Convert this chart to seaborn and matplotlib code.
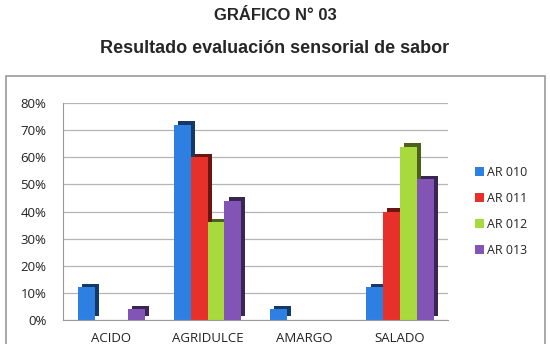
import pandas as pd
import seaborn as sns
import matplotlib.pyplot as plt
import matplotlib.patheffects as pe
from matplotlib.patches import Rectangle
from matplotlib.ticker import PercentFormatter
from matplotlib.colors import to_rgb

# Data
categories = ['ACIDO', 'AGRIDULCE', 'AMARGO', 'SALADO']
series = ['AR 010', 'AR 011', 'AR 012', 'AR 013']
ar010 = [12, 72, 4, 12]
ar011 = [0, 60, 0, 40]
ar012 = [0, 36, 0, 64]
ar013 = [4, 44, 0, 52]

colors = ['#2E7FE2', '#E8302A', '#A8DA3E', '#8154B6']

rows = []
for name, vals in zip(series, [ar010, ar011, ar012, ar013]):
    for cat, v in zip(categories, vals):
        rows.append({'Sabor': cat, 'Muestra': name, 'Valor': v})
df = pd.DataFrame(rows)

sns.set_style('white')
plt.rcParams['font.family'] = ['Open Sans', 'DejaVu Sans']

fig = plt.figure(figsize=(5.5, 3.44), dpi=100)
ax = fig.add_axes([0.115, 0.07, 0.70, 0.63])

# outer chart frame
fig.patches.append(Rectangle((0.010, -0.01), 0.98, 0.79, transform=fig.transFigure,
                             fill=False, edgecolor='#9a9a9a', linewidth=1.2))

sns.barplot(data=df, x='Sabor', y='Valor', hue='Muestra', palette=colors,
            width=0.7, gap=0, ax=ax, saturation=1, linewidth=0)

ax.set_ylim(0, 80)
ax.set_yticks(range(0, 81, 10))
ax.yaxis.set_major_formatter(PercentFormatter(decimals=0))
ax.grid(axis='y', color='#b5b5b5', linewidth=0.9)
ax.set_axisbelow(True)
for s in ['top', 'right']:
    ax.spines[s].set_visible(False)
ax.spines['left'].set_color('#9a9a9a')
ax.spines['bottom'].set_color('#9a9a9a')
ax.set_xlabel('')
ax.set_ylabel('')
ax.tick_params(axis='both', labelsize=9.5, colors='#222222', length=0)
ax.tick_params(axis='x', pad=9)
ax.tick_params(axis='y', pad=12)

leg = ax.legend(loc='center left', bbox_to_anchor=(1.04, 0.5), frameon=False, fontsize=9,
                handlelength=0.7, handleheight=0.7, handletextpad=0.25, labelspacing=1.05)

# pseudo 3D depth: darker side offset up-right (bars only, not legend)
for patch in ax.patches:
    c = to_rgb(patch.get_facecolor())
    dark = tuple(x * 0.45 for x in c)
    patch.set_path_effects([pe.SimplePatchShadow(offset=(3, 2.5), shadow_rgbFace=dark, alpha=1),
                            pe.Normal()])
for h in leg.legend_handles:
    h.set_path_effects([])

fig.text(0.5, 0.955, 'GRÁFICO N° 03', ha='center', va='center', fontsize=12,
         fontweight='bold', family='Liberation Sans')
fig.text(0.5, 0.858, 'Resultado evaluación sensorial de sabor', ha='center', va='center',
         fontsize=13, fontweight='bold', family='Liberation Sans')

fig.savefig('out.png', dpi=100)
